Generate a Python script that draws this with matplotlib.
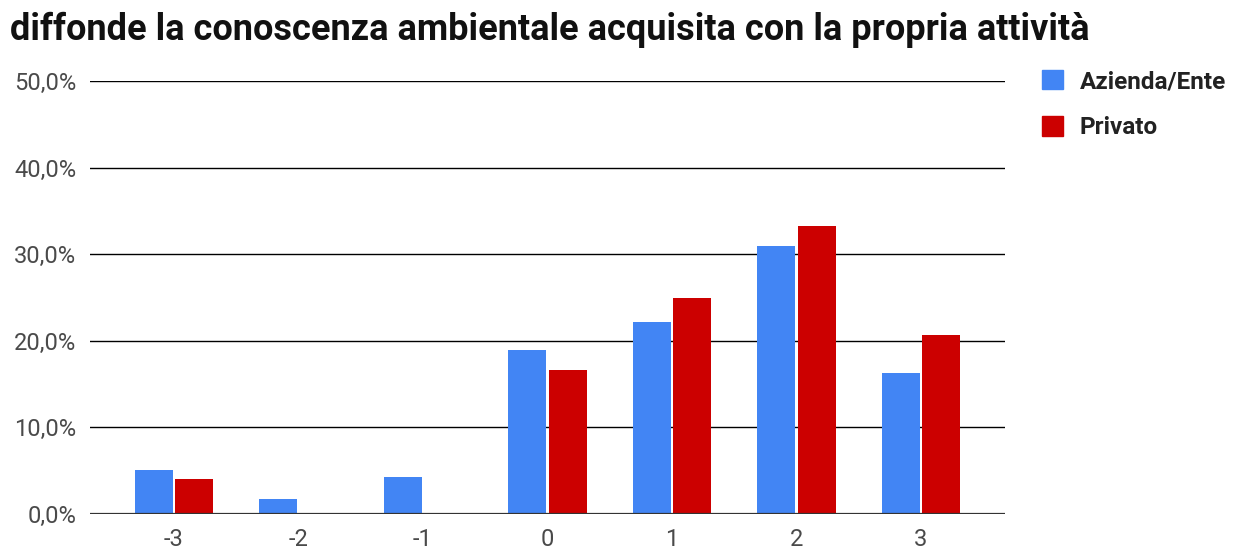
import matplotlib.pyplot as plt
from matplotlib.patches import Patch
from matplotlib.ticker import FuncFormatter
import numpy as np

plt.rcParams['font.family'] = ['Roboto', 'DejaVu Sans']

categorie = ['-3', '-2', '-1', '0', '1', '2', '3']
azienda_ente = [5.1, 1.7, 4.3, 18.9, 22.2, 31.0, 16.3]
privato = [4.0, 0.0, 0.0, 16.6, 25.0, 33.3, 20.7]

colore_azienda = '#4285F4'
colore_privato = '#CC0000'

fig = plt.figure(figsize=(12.34, 5.49), dpi=100)
ax = fig.add_axes([0.0729, 0.0638, 0.7415, 0.7885])

x = np.arange(len(categorie))
larghezza = 0.305
ax.bar(x - larghezza / 2 - 0.01, azienda_ente, larghezza, color=colore_azienda, zorder=3)
ax.bar(x + larghezza / 2 + 0.01, privato, larghezza, color=colore_privato, zorder=3)

ax.set_xlim(-0.675, len(categorie) - 1 + 0.675)
ax.set_ylim(0, 50)
ax.set_yticks([0, 10, 20, 30, 40, 50])
ax.yaxis.set_major_formatter(FuncFormatter(lambda v, p: f"{v:.1f}%".replace('.', ',')))
ax.set_xticks(x)
ax.set_xticklabels(categorie)

ax.grid(axis='y', color='black', linewidth=1.0, zorder=0)
ax.axhline(0, color='#333333', linewidth=1.6, zorder=4)
for s in ax.spines.values():
    s.set_visible(False)
ax.tick_params(axis='both', length=0, labelsize=17, labelcolor='#4a4a4a')
ax.tick_params(axis='y', pad=10)
ax.tick_params(axis='x', pad=10)

fig.text(0.008, 0.945, 'diffonde la conoscenza ambientale acquisita con la propria attività',
         fontsize=26, fontweight='bold', color='#111111', va='center', ha='left')

handles = [Patch(color=colore_azienda, label='Azienda/Ente'),
           Patch(color=colore_privato, label='Privato')]
leg = fig.legend(handles=handles, loc='upper left', bbox_to_anchor=(0.8365, 0.89),
                 frameon=False, fontsize=17.5, handlelength=0.85, handleheight=0.85,
                 handletextpad=0.7, labelspacing=0.95, borderaxespad=0)
for t in leg.get_texts():
    t.set_fontweight('bold')
    t.set_color('#222222')

fig.savefig('out.png', dpi=100)
